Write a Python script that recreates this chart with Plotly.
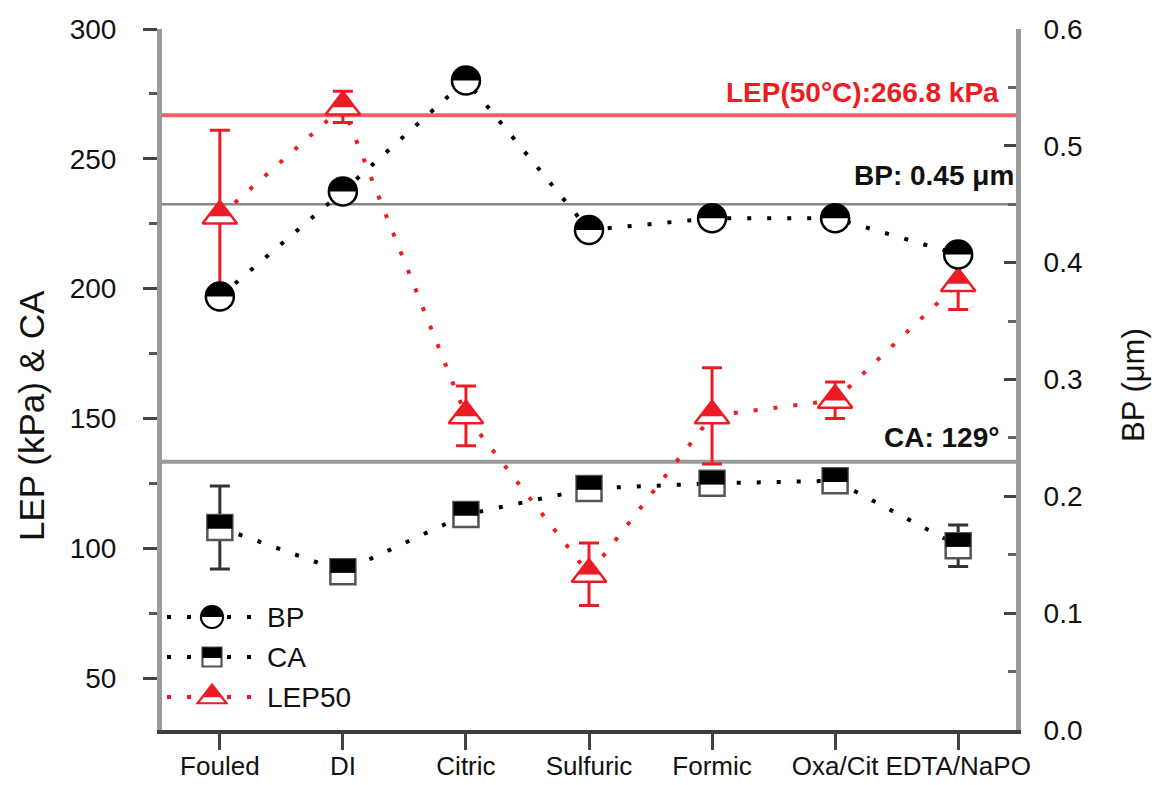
import numpy as np
import plotly.graph_objects as go

# ---------------- data ----------------
categories = ["Fouled", "DI", "Citric", "Sulfuric", "Formic", "Oxa/Cit", "EDTA/NaPO"]
bp_um = [0.371, 0.461, 0.556, 0.428, 0.438, 0.438, 0.407]
ca_deg = [108, 91, 113, 123, 125, 126, 101]
ca_err = [16, 1.5, 1.5, 2, 2, 1.5, 8]
lep50_kpa = [228, 270, 151, 90, 151, 157, 202]
lep50_err = [33, 6, 11.5, 12, 18.5, 7, 10]

lep_ref = 266.8      # LEP(50°C) reference line, kPa
bp_ref = 0.45        # BP reference line, um
ca_ref_line = 133.3  # CA reference line position (left axis)
ca_ref_label = 129

left_ticks = [50, 100, 150, 200, 250, 300]
right_ticks = [0.0, 0.1, 0.2, 0.3, 0.4, 0.5, 0.6]

# ---------------- style ----------------
RED = "#ed1c24"
FONT = "Arial, Liberation Sans, sans-serif"
FS = 28
DOT = "4px,16px"

xpos = list(range(len(categories)))

# figure geometry (page has an 8px body margin)
OFF = 8
W, H = 1155, 777
ML, MR, MT, MB = 154, 147, 21, 55
PW, PH = W - ML - MR, H - MT - MB


def px2paper(px, py):
    return (px - OFF - ML) / PW, (H - MB - (py - OFF)) / PH


def poly(pts):
    return "M " + " L ".join(f"{x:.2f},{y:.2f}" for x, y in pts) + " Z"


def circle_top(r):
    t = np.linspace(0, np.pi, 31)
    return poly(list(zip(r * np.cos(t), r * np.sin(t))))


def circle_full(r):
    t = np.linspace(0, 2 * np.pi, 61)[:-1]
    return poly(list(zip(r * np.cos(t), r * np.sin(t))))


def square_top(h, frac=0.55):
    top = h
    bot = h - 2 * h * frac
    return poly([(-h, bot), (h, bot), (h, top), (-h, top)])


def square_full(h):
    return poly([(-h, -h), (h, -h), (h, h), (-h, h)])


def tri_params(size):
    r = size / 2.0
    rt = r * 2 / np.sqrt(3)
    return r, rt


def tri_top(size, frac=0.68):
    r, rt = tri_params(size)
    lvl = r - frac * 1.5 * r
    hw = rt * (r - lvl) / (1.5 * r)
    return poly([(0, r), (hw, lvl), (-hw, lvl)])


def tri_full(size):
    r, rt = tri_params(size)
    return poly([(0, r), (rt, -r / 2), (-rt, -r / 2)])


fig = go.Figure()

# LEP50 (left axis)
fig.add_trace(go.Scatter(
    x=xpos, y=lep50_kpa, name="LEP50", yaxis="y",
    mode="lines+markers",
    line=dict(color=RED, width=4, dash=DOT),
    marker=dict(symbol="triangle-up", size=30, color="white",
                line=dict(color=RED, width=2.5)),
    error_y=dict(type="data", array=lep50_err, visible=True,
                 color=RED, thickness=3, width=10),
    showlegend=False,
))

# CA (left axis)
fig.add_trace(go.Scatter(
    x=xpos, y=ca_deg, name="CA", yaxis="y",
    mode="lines+markers",
    line=dict(color="black", width=4, dash=DOT),
    marker=dict(symbol="square", size=25, color="white",
                line=dict(color="#555555", width=2.5)),
    error_y=dict(type="data", array=ca_err, visible=True,
                 color="#333333", thickness=3, width=10),
    showlegend=False,
))

# BP (right axis)
fig.add_trace(go.Scatter(
    x=xpos, y=bp_um, name="BP", yaxis="y2",
    mode="lines+markers",
    line=dict(color="black", width=4, dash=DOT),
    marker=dict(symbol="circle", size=28, color="white",
                line=dict(color="black", width=2.5)),
    showlegend=False,
))

shapes = []

# reference lines
shapes.append(dict(type="line", xref="paper", x0=0, x1=1, yref="y", y0=lep_ref, y1=lep_ref,
                   line=dict(color="rgba(237,40,48,0.75)", width=4), layer="below"))
shapes.append(dict(type="line", xref="paper", x0=0, x1=1, yref="y2", y0=bp_ref, y1=bp_ref,
                   line=dict(color="#888888", width=2.5), layer="below"))
shapes.append(dict(type="line", xref="paper", x0=0, x1=1, yref="y", y0=ca_ref_line, y1=ca_ref_line,
                   line=dict(color="#9a9a9a", width=4), layer="below"))

# half-filled marker tops
for i, v in enumerate(bp_um):
    shapes.append(dict(type="path", xref="x", yref="y2", xsizemode="pixel", ysizemode="pixel",
                       xanchor=i, yanchor=v, path=circle_top(14), fillcolor="black",
                       line=dict(width=0), layer="above"))
for i, v in enumerate(ca_deg):
    shapes.append(dict(type="path", xref="x", yref="y", xsizemode="pixel", ysizemode="pixel",
                       xanchor=i, yanchor=v, path=square_top(12.5), fillcolor="black",
                       line=dict(width=0), layer="above"))
for i, v in enumerate(lep50_kpa):
    shapes.append(dict(type="path", xref="x", yref="y", xsizemode="pixel", ysizemode="pixel",
                       xanchor=i, yanchor=v, path=tri_top(30), fillcolor=RED,
                       line=dict(width=0), layer="above"))

# ---------------- manual legend ----------------
legend_items = [
    ("BP", "black", "circle", 617),
    ("CA", "black", "square", 657),
    ("LEP50", RED, "triangle", 697),
]
annotations = []
for label, col, sym, py in legend_items:
    xa, yy = px2paper(167, py)
    xb, _ = px2paper(255, py)
    xm, _ = px2paper(212, py)
    xt, _ = px2paper(265, py)
    shapes.append(dict(type="line", xref="paper", yref="paper", x0=xa, x1=xb, y0=yy, y1=yy,
                       line=dict(color=col, width=4, dash=DOT)))
    if sym == "circle":
        outline, fill, oc = circle_full(11), circle_top(11), "black"
    elif sym == "square":
        outline, fill, oc = square_full(9.5), square_top(9.5), "#555555"
    else:
        outline, fill, oc = tri_full(25), tri_top(25), RED
    shapes.append(dict(type="path", xref="paper", yref="paper", xsizemode="pixel", ysizemode="pixel",
                       xanchor=xm, yanchor=yy, path=outline, fillcolor="white",
                       line=dict(color=oc, width=2.2)))
    shapes.append(dict(type="path", xref="paper", yref="paper", xsizemode="pixel", ysizemode="pixel",
                       xanchor=xm, yanchor=yy, path=fill, fillcolor=col if sym != "square" else "black",
                       line=dict(width=0)))
    annotations.append(dict(xref="paper", yref="paper", x=xt, y=yy, xanchor="left", yanchor="middle",
                            text=label, showarrow=False, font=dict(family=FONT, size=FS, color="#111111")))

# reference labels
annotations.append(dict(xref="paper", x=0.9825, xanchor="right", yref="y", y=lep_ref, yanchor="bottom",
                        yshift=5, showarrow=False, text="<b>LEP(50°C):266.8 kPa</b>",
                        font=dict(family=FONT, size=FS, color=RED)))
annotations.append(dict(xref="paper", x=1.0, xanchor="right", yref="y2", y=bp_ref, yanchor="bottom",
                        yshift=11, showarrow=False, text="<b>BP: 0.45 μm</b>",
                        font=dict(family=FONT, size=FS, color="#111111")))
annotations.append(dict(xref="paper", x=0.9825, xanchor="right", yref="y", y=ca_ref_line, yanchor="bottom",
                        yshift=7, showarrow=False, text=f"<b>CA: {ca_ref_label}°</b>",
                        font=dict(family=FONT, size=FS, color="#111111")))

# axis titles
tlx, tly = px2paper(31, 416)
trx, try_ = px2paper(1133, 385)
annotations.append(dict(xref="paper", yref="paper", x=tlx, y=tly, xanchor="center", yanchor="middle",
                        textangle=-90, showarrow=False, text="LEP (kPa) & CA",
                        font=dict(family=FONT, size=35, color="#111111")))
annotations.append(dict(xref="paper", yref="paper", x=trx, y=try_, xanchor="center", yanchor="middle",
                        textangle=-90, showarrow=False, text="BP (μm)",
                        font=dict(family=FONT, size=31, color="#111111")))

fig.update_layout(
    width=W, height=H,
    margin=dict(l=ML, r=MR, t=MT, b=MB, autoexpand=False),
    paper_bgcolor="white", plot_bgcolor="white",
    font=dict(family=FONT, size=FS, color="#111111"),
    showlegend=False,
    xaxis=dict(
        range=[-0.47, len(categories) - 0.53],
        tickmode="array", tickvals=xpos, ticktext=categories, tickangle=0,
        showgrid=False, zeroline=False,
        showline=True, linecolor="#3c3c3c", linewidth=4,
        ticks="outside", ticklen=16, tickwidth=3, tickcolor="#444444",
        tickfont=dict(family=FONT, size=26, color="#111111"),
        ticklabelstandoff=-6,
    ),
    yaxis=dict(
        range=[30, 300], tickmode="array", tickvals=left_ticks,
        showgrid=False, zeroline=False,
        showline=True, linecolor="#9a9a9a", linewidth=5,
        ticks="outside", ticklen=14, tickwidth=3, tickcolor="#444444",
        minor=dict(ticks="outside", ticklen=8, tickwidth=3, tickcolor="#555555",
                   tickmode="array", tickvals=[75, 125, 175, 225, 275]),
        tickfont=dict(family=FONT, size=FS, color="#111111"),
        ticklabelstandoff=21,
    ),
    yaxis2=dict(
        range=[0, 0.6], overlaying="y", side="right",
        tickmode="array", tickvals=right_ticks, tickformat=".1f",
        showgrid=False, zeroline=False,
        showline=True, linecolor="#9a9a9a", linewidth=5,
        ticks="inside", ticklen=12, tickwidth=3, tickcolor="#444444",
        minor=dict(ticks="inside", ticklen=8, tickwidth=3, tickcolor="#666666",
                   tickmode="array", tickvals=[0.05, 0.15, 0.25, 0.35, 0.45, 0.55]),
        tickfont=dict(family=FONT, size=FS, color="#111111"),
        ticklabelstandoff=17,
    ),
    shapes=shapes,
    annotations=annotations,
)

fig.write_html("out.html")
